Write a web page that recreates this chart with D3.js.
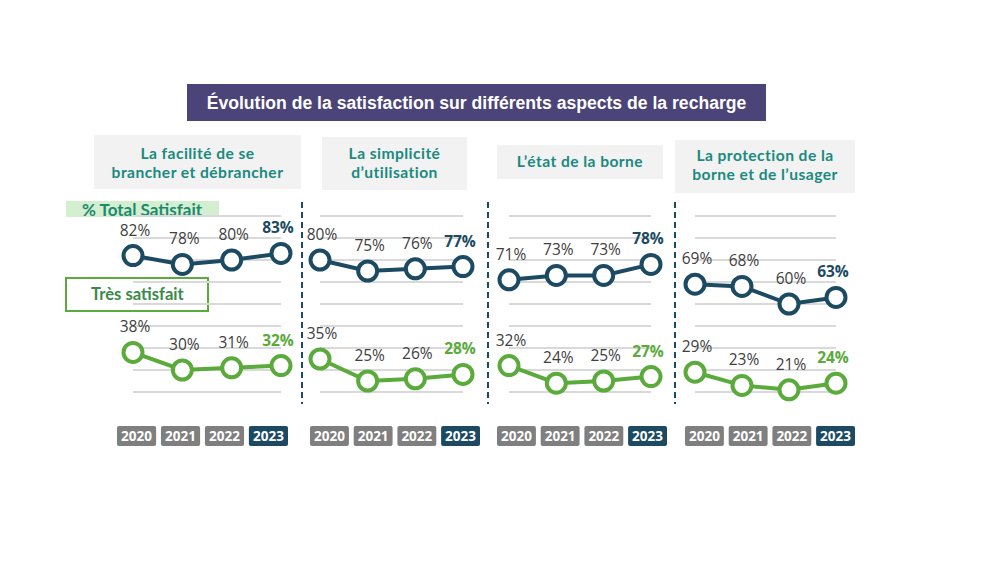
<!DOCTYPE html>
<html><head><meta charset="utf-8">
<script src="https://cdn.jsdelivr.net/npm/d3@7"></script>
<style>
html,body{margin:0;padding:0;background:#fff;}
svg{display:block;}
</style></head>
<body>
<svg id="chart" width="1000" height="563"></svg>
<script>
// ---- data ----
const chartTitle = "Évolution de la satisfaction sur différents aspects de la recharge";
const years = ["2020", "2021", "2022", "2023"];
const aspects = [
  ["La facilité de se", "brancher et débrancher"],
  ["La simplicité", "d’utilisation"],
  ["L’état de la borne"],
  ["La protection de la", "borne et de l’usager"]
];
const totalSatisfait = [
  [82, 78, 80, 83],
  [80, 75, 76, 77],
  [71, 73, 73, 78],
  [69, 68, 60, 63]
];
const tresSatisfait = [
  [38, 30, 31, 32],
  [35, 25, 26, 28],
  [32, 24, 25, 27],
  [29, 23, 21, 24]
];
const seriesNames = ["% Total Satisfait", "Très satisfait"];
const gridTicks = [20, 30, 40, 50, 60, 70, 80, 90, 100];

// ---- layout ----
const svg = d3.select("#chart");
const NAVY = "#1b4a62", GREEN = "#5aaa3c", TEAL = "#1a8a80", GREY = "#7f7f7f", TXT = "#404040";

const panels = [
  {pts: [133, 281], badges: [117, 288], head: [94, 301, 135, 189], base: [159, 178]},
  {pts: [320, 463], badges: [310, 480], head: [322, 467, 137, 190], base: [159, 178]},
  {pts: [509, 651], badges: [497, 667], head: [497, 663, 145, 179], base: [167]},
  {pts: [695, 836], badges: [685, 855], head: [675, 855, 140, 193], base: [161, 180]}
];
const dividers = [302, 488, 675];

const y = d3.scaleLinear().domain([0, 100]).range([436, 216]);

// title
svg.append("rect").attr("x", 187).attr("y", 84).attr("width", 579).attr("height", 37).attr("fill", "#4b4478");
svg.append("text").attr("x", 476.5).attr("y", 109).attr("text-anchor", "middle")
  .attr("font-family", "Liberation Sans, Arial, sans-serif").attr("font-weight", "bold")
  .attr("font-size", 17.6).attr("fill", "#fff").text(chartTitle);

// legend labels
svg.append("rect").attr("x", 66).attr("y", 201).attr("width", 153).attr("height", 16).attr("fill", "#d3efd0");
svg.append("text").attr("x", 82).attr("y", 215.5).attr("font-family", "Lato, sans-serif").attr("font-weight", "bold")
  .attr("font-size", 17).attr("fill", "#1d8a70").text(seriesNames[0]);
svg.append("rect").attr("x", 66).attr("y", 278).attr("width", 142).attr("height", 33)
  .attr("fill", "#fff").attr("stroke", GREEN).attr("stroke-width", 2);
svg.append("text").attr("x", 91).attr("y", 300).attr("font-family", "Lato, sans-serif").attr("font-weight", "bold")
  .attr("font-size", 16.6).attr("fill", "#3a8a48").text(seriesNames[1]);

// dividers
dividers.forEach(dx => {
  svg.append("line").attr("x1", dx).attr("x2", dx).attr("y1", 202).attr("y2", 404)
    .attr("stroke", NAVY).attr("stroke-width", 2).attr("stroke-dasharray", "6,4");
});

const line = d3.line();

panels.forEach((p, i) => {
  const g = svg.append("g");
  const x = d3.scalePoint().domain(years).range(p.pts);
  const xb = d3.scaleBand().domain(years).range(p.badges).paddingInner(0.11);

  // header
  g.append("rect").attr("x", p.head[0]).attr("y", p.head[2]).attr("width", p.head[1] - p.head[0])
    .attr("height", p.head[3] - p.head[2]).attr("fill", "#f2f2f2");
  aspects[i].forEach((ln, k) => {
    g.append("text").attr("x", (p.head[0] + p.head[1]) / 2).attr("y", p.base[k]).attr("text-anchor", "middle")
      .attr("font-family", "Lato, sans-serif").attr("font-weight", "bold").attr("font-size", 15.6)
      .attr("letter-spacing", 0.45)
      .attr("fill", TEAL).text(ln);
  });

  // gridlines
  g.selectAll(".grid").data(gridTicks).join("line")
    .attr("x1", p.pts[0]).attr("x2", p.pts[1])
    .attr("y1", d => y(d)).attr("y2", d => y(d))
    .attr("stroke", "#d9d9d9").attr("stroke-width", 2);

  [[totalSatisfait[i], NAVY], [tresSatisfait[i], GREEN]].forEach(([vals, col]) => {
    const pts = vals.map((v, j) => [x(years[j]), y(v)]);
    g.append("path").attr("d", line(pts)).attr("fill", "none").attr("stroke", col).attr("stroke-width", 4);
    g.selectAll(null).data(vals).join("circle")
      .attr("cx", (d, j) => x(years[j])).attr("cy", d => y(d)).attr("r", 9.5)
      .attr("fill", "#fff").attr("stroke", col).attr("stroke-width", 4);
    g.selectAll(null).data(vals).join("text")
      .attr("x", (d, j) => x(years[j]) + (j === 3 ? -3 : 2)).attr("y", d => y(d) - 20)
      .attr("text-anchor", "middle")
      .attr("font-family", "Open Sans, sans-serif").attr("font-size", 15.5)
      .attr("font-weight", (d, j) => j === 3 ? "bold" : "normal")
      .attr("fill", (d, j) => j === 3 ? col : TXT)
      .text(d => d + "%");
  });

  // year badges
  years.forEach((yr, j) => {
    g.append("rect").attr("x", xb(yr)).attr("y", 426).attr("width", xb.bandwidth()).attr("height", 20)
      .attr("rx", 2).attr("fill", j === 3 ? NAVY : GREY);
    g.append("text").attr("x", xb(yr) + xb.bandwidth() / 2).attr("y", 441).attr("text-anchor", "middle")
      .attr("font-family", "Open Sans, sans-serif").attr("font-weight", "bold").attr("font-size", 13.5)
      .attr("fill", "#fff").text(yr);
  });
});
</script>
</body></html>
